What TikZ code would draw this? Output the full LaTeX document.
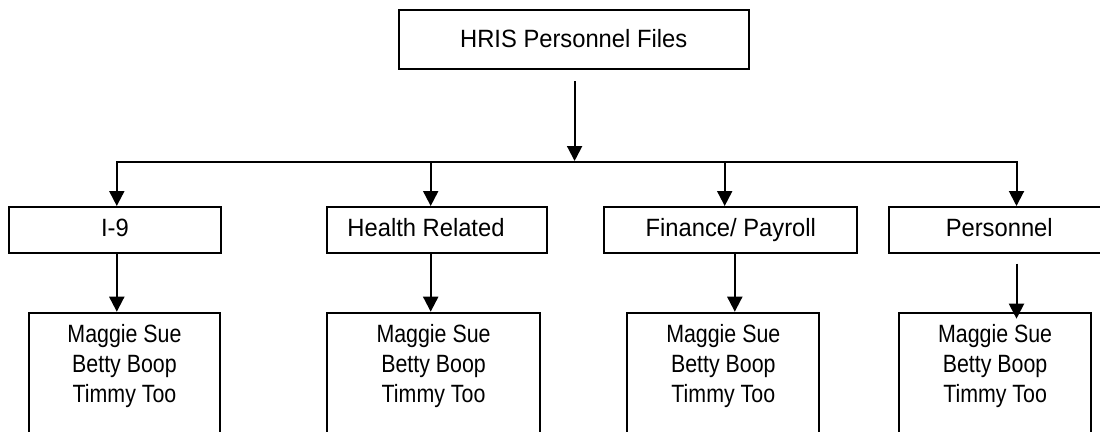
\documentclass[tikz,border=0pt]{standalone}
\usepackage{fontspec}
\setmainfont{Liberation Sans}
\newfontfamily\catfont[FakeStretch=0.95]{Liberation Sans}
\newfontfamily\namefont[FakeStretch=0.855]{Liberation Sans}
\usetikzlibrary{arrows.meta}
\tikzset{
  ln/.style={line width=2pt},
  box/.style={draw, ln, inner sep=0pt, font=\catfont\fontsize{25}{30}\selectfont},
  cat/.style={box, minimum height=46pt, text height=17.8pt, text depth=5pt},
  tip/.tip={Triangle[length=15pt,width=15pt]},
  arr/.style={ln, -tip},
  namebox/.style={draw, ln, inner sep=0pt, minimum height=140pt, anchor=north},
  names/.style={align=center, inner sep=0pt, anchor=north, font=\namefont\fontsize{25}{29.8}\selectfont},
}
\begin{document}
\begin{tikzpicture}[x=1pt,y=-1pt]
\useasboundingbox (0,0) rectangle (1100,431);
\clip (0,0) rectangle (1100,431);

% top
\node[box, minimum width=350.4pt, minimum height=59.6pt, text height=17.8pt, text depth=2.4pt] (top) at (573.7,39.6) {HRIS Personnel Files};

% categories
\node[cat, minimum width=212.2pt] (i9) at (114.9,230) {I-9};
\node[cat, minimum width=220.5pt] (hr) at (436.75,230) {Health Related\hspace*{21.5pt}};
\node[cat, minimum width=252.9pt] (fp) at (730.85,230) {Finance/ Payroll};
\node[cat, minimum width=221.5pt] (pe) at (999.25,230) {Personnel};

% name boxes
\node[namebox, minimum width=191.5pt] (b1) at (124.5,311.7) {};
\node[namebox, minimum width=213.3pt] (b2) at (433.55,311.7) {};
\node[namebox, minimum width=192.2pt] (b3) at (723.3,311.7) {};
\node[namebox, minimum width=192.2pt] (b4) at (995.1,311.7) {};
\node[names] (n1) at ([yshift=-12.5pt]b1.north) {Maggie Sue\\Betty Boop\\Timmy Too};
\node[names] (n2) at ([yshift=-12.5pt]b2.north) {Maggie Sue\\Betty Boop\\Timmy Too};
\node[names] (n3) at ([yshift=-12.5pt]b3.north) {Maggie Sue\\Betty Boop\\Timmy Too};
\node[names] (n4) at ([yshift=-12.5pt]b4.north) {Maggie Sue\\Betty Boop\\Timmy Too};

% bus
\coordinate (a0) at (574.6,81.4);
\coordinate (j0) at (574.6,161);
\coordinate (d1) at (116.8,162);
\coordinate (d2) at (430.7,162);
\coordinate (d3) at (724.7,162);
\coordinate (d4) at (1016.5,162);

\draw[arr] (a0) -- (j0);
\draw[ln, tip-tip, line join=miter] (d1 |- i9.north) -- (d1) -- (d4) -- (d4 |- pe.north);
\draw[arr] (d2) -- (d2 |- hr.north);
\draw[arr] (d3) -- (d3 |- fp.north);

% lower arrows
\draw[arr] (i9.south -| d1) -- (d1 |- b1.north);
\draw[arr] (hr.south -| d2) -- (d2 |- b2.north);
\draw[arr] ([xshift=3.95pt]fp.south) -- ([xshift=3.95pt]fp.south |- b3.north);
\draw[arr] ([yshift=-9.6pt]pe.south -| d4) -- ([yshift=-7pt]b4.north -| d4);
\end{tikzpicture}
\end{document}
